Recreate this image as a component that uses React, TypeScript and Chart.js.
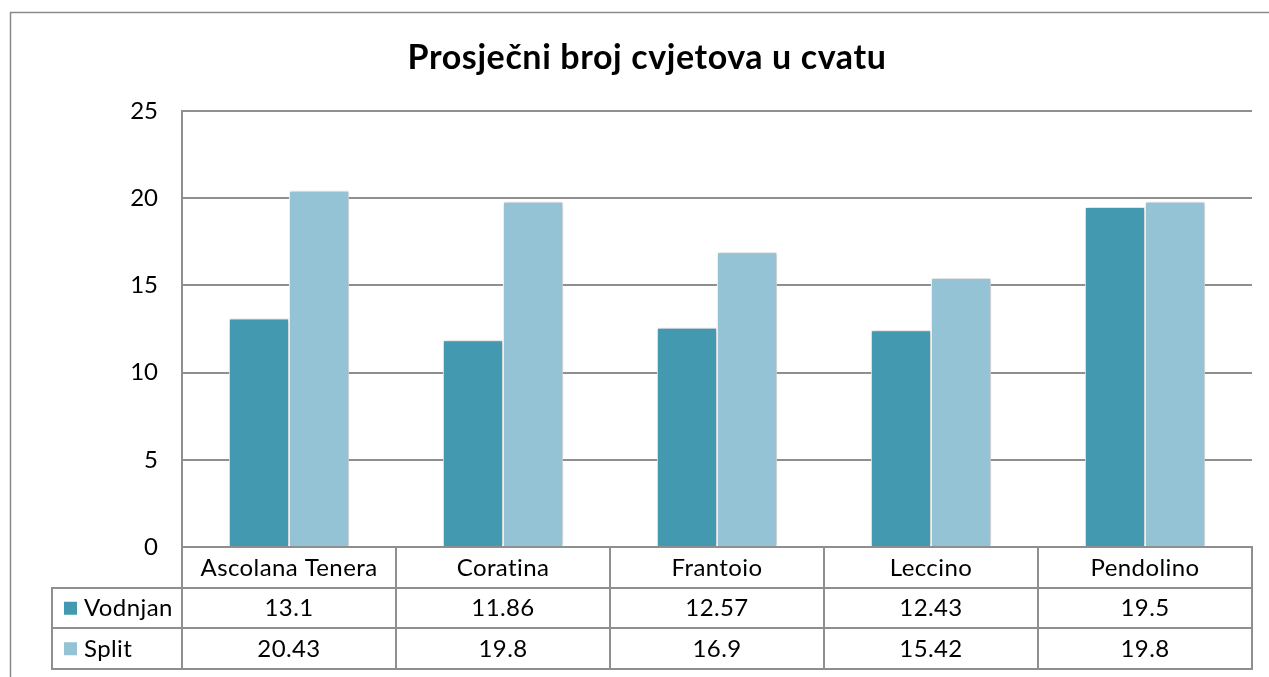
import React, { useEffect, useRef } from "react";
import { Chart, registerables } from "chart.js";

Chart.register(...registerables);

const chartTitle = "Prosječni broj cvjetova u cvatu";
const categories = ["Ascolana Tenera", "Coratina", "Frantoio", "Leccino", "Pendolino"];
const seriesNames = ["Vodnjan", "Split"];
const vodnjanValues = [13.1, 11.86, 12.57, 12.43, 19.5];
const splitValues = [20.43, 19.8, 16.9, 15.42, 19.8];
const seriesColors = ["#4299B0", "#93C3D5"];

const FONT = "Lato, 'Open Sans', sans-serif";
const GRID = "#8f8f8f";

const framePlugin = {
  id: "frame",
  beforeDraw(chart: any) {
    const ctx = chart.ctx;
    ctx.save();
    ctx.fillStyle = "#ffffff";
    ctx.fillRect(0, 0, chart.width, chart.height);
    ctx.strokeStyle = "#8a8a8a";
    ctx.lineWidth = 1.5;
    ctx.strokeRect(10.5, 12.5, chart.width + 20, chart.height + 20);
    ctx.restore();
  },
};

const shadowPlugin = {
  id: "barShadow",
  beforeDatasetsDraw(chart: any) {
    const ctx = chart.ctx;
    ctx.save();
    ctx.shadowColor = "rgba(0,0,0,0.28)";
    ctx.shadowBlur = 4;
    ctx.shadowOffsetX = 1;
    ctx.shadowOffsetY = 0;
  },
  afterDatasetsDraw(chart: any) {
    chart.ctx.restore();
  },
};

const tablePlugin = {
  id: "dataTable",
  afterDraw(chart: any) {
    const ctx = chart.ctx;
    const area = chart.chartArea;
    const xs = chart.scales.x;
    const n = categories.length;
    const catW = (area.right - area.left) / n;
    const rowH = 40.5;
    const top = area.bottom;
    const r1 = top + rowH;
    const r2 = r1 + rowH;
    const r3 = r2 + rowH;
    const tableLeft = 52;

    ctx.save();
    ctx.strokeStyle = GRID;
    ctx.lineWidth = 2;
    ctx.beginPath();
    for (let i = 0; i <= n; i++) {
      const x = Math.round(area.left + i * catW);
      ctx.moveTo(x, top);
      ctx.lineTo(x, r3);
    }
    ctx.moveTo(tableLeft, r1);
    ctx.lineTo(tableLeft, r3);
    [r1, r2, r3].forEach((y) => {
      ctx.moveTo(tableLeft - 1, Math.round(y));
      ctx.lineTo(area.right + 1, Math.round(y));
    });
    ctx.stroke();

    try {
      (ctx as any).letterSpacing = "0.4px";
    } catch (e) {}
    ctx.fillStyle = "#000";
    ctx.font = `24px ${FONT}`;
    ctx.textAlign = "center";
    ctx.textBaseline = "middle";
    categories.forEach((c, i) => {
      const cx = xs.getPixelForValue(i);
      ctx.fillText(c, cx, top + rowH / 2 + 1);
    });
    const rows = [vodnjanValues, splitValues];
    rows.forEach((vals, r) => {
      const cy = r1 + rowH * r + rowH / 2 + 1;
      vals.forEach((v, i) => {
        ctx.fillText(String(v), xs.getPixelForValue(i), cy);
      });
      ctx.fillStyle = seriesColors[r];
      ctx.fillRect(tableLeft + 12, cy - 7, 13, 13);
      ctx.fillStyle = "#000";
      ctx.textAlign = "left";
      ctx.fillText(seriesNames[r], tableLeft + 32, cy);
      ctx.textAlign = "center";
    });

    try {
      (ctx as any).letterSpacing = "0.6px";
    } catch (e) {}
    ctx.font = `bold 34px ${FONT}`;
    ctx.fillText(chartTitle, 647, 58);
    ctx.restore();
  },
};

export default function App() {
  const ref = useRef<HTMLCanvasElement | null>(null);
  useEffect(() => {
    if (!ref.current) return;
    const chart = new Chart(ref.current, {
      type: "bar",
      data: {
        labels: categories,
        datasets: [
          {
            label: seriesNames[0],
            data: vodnjanValues,
            backgroundColor: seriesColors[0],
            borderColor: "#ffffff",
            borderWidth: 1,
            categoryPercentage: 0.562,
            barPercentage: 1,
          },
          {
            label: seriesNames[1],
            data: splitValues,
            backgroundColor: seriesColors[1],
            borderColor: "#ffffff",
            borderWidth: 1,
            categoryPercentage: 0.562,
            barPercentage: 1,
          },
        ],
      },
      options: {
        responsive: false,
        animation: false,
        events: [],
        layout: { padding: { top: 111, bottom: 130, left: 0, right: 17 } },
        plugins: {
          legend: { display: false },
          title: { display: false },
          tooltip: { enabled: false },
        },
        scales: {
          x: {
            ticks: { display: false },
            grid: { display: false, drawTicks: false },
            border: { display: true, color: GRID, width: 2 },
            afterFit: (s: any) => {
              s.height = 0;
            },
          },
          y: {
            min: 0,
            max: 25,
            ticks: {
              stepSize: 5,
              color: "#000",
              font: { family: FONT, size: 24 },
              padding: 24,
            },
            grid: { color: GRID, lineWidth: 2, drawTicks: false },
            border: { display: true, color: GRID, width: 2 },
            afterFit: (s: any) => {
              s.width = 182;
            },
          },
        },
      },
      plugins: [framePlugin, shadowPlugin, tablePlugin],
    });
    return () => chart.destroy();
  }, []);
  return (
    <div style={{ position: "absolute", left: 0, top: 0, width: 1269, height: 677 }}>
      <canvas ref={ref} width={1269} height={677} />
    </div>
  );
}
